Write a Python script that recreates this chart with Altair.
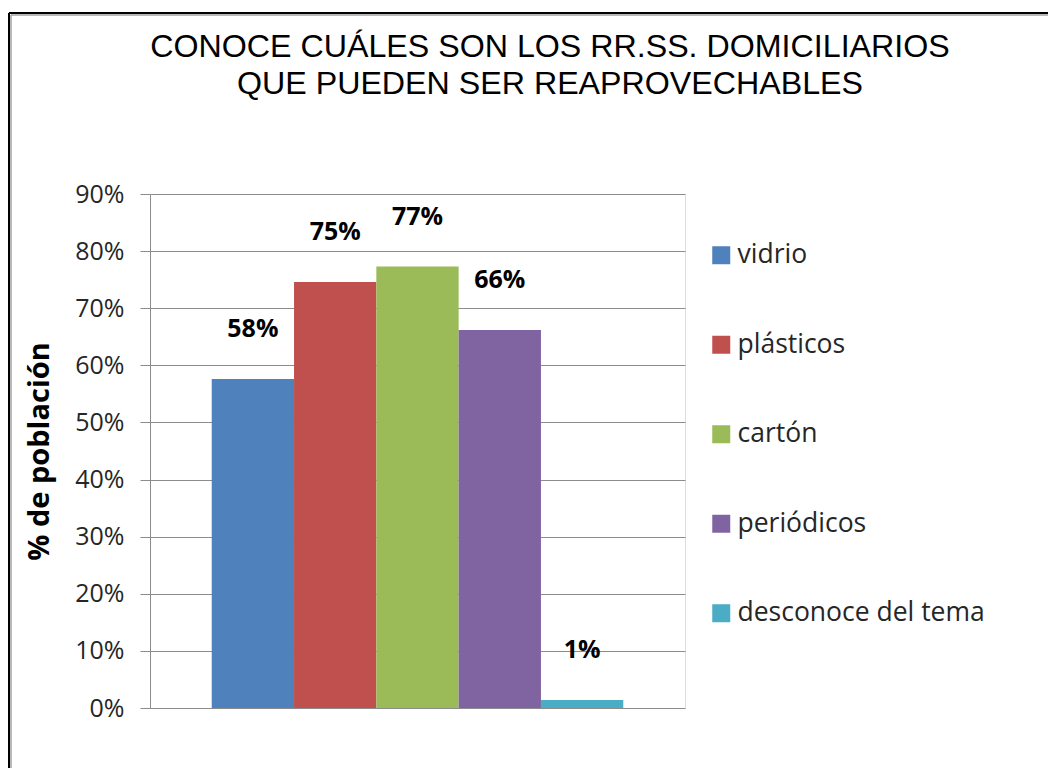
import altair as alt
import pandas as pd

categories = ["vidrio", "plásticos", "cartón", "periódicos", "desconoce del tema"]
values = [0.576, 0.746, 0.773, 0.662, 0.014]
colors = ["#4F81BD", "#C0504D", "#9BBB59", "#8064A2", "#4BACC6"]
y_ticks = [0, 0.1, 0.2, 0.3, 0.4, 0.5, 0.6, 0.7, 0.8, 0.9]
title_lines = ["CONOCE CUÁLES SON LOS RR.SS. DOMICILIARIOS", "QUE PUEDEN SER REAPROVECHABLES"]
y_title = "% de población"

df = pd.DataFrame({"serie": categories, "valor": values})

W, H = 535, 514

x_enc = alt.X("serie:N", sort=categories, axis=None,
              scale=alt.Scale(paddingInner=0, paddingOuter=0.75))
y_enc = alt.Y("valor:Q",
              scale=alt.Scale(domain=[0, 0.9], nice=False),
              axis=alt.Axis(values=y_ticks, format=".0%", title=y_title,
                            titleFont="Open Sans", titleFontSize=29, titleFontWeight="bold",
                            titleColor="#000000", titleAngle=-90, titleX=-111, titleY=H / 2,
                            titleAlign="center", titleBaseline="middle",
                            labelFont="Open Sans", labelFontSize=25, labelColor="#262626",
                            labelPadding=16, tickSize=10, tickColor="#8c8c8c",
                            domainColor="#8c8c8c", gridColor="#8c8c8c", grid=True))

bars = alt.Chart(df).mark_bar().encode(
    x=x_enc,
    y=y_enc,
    color=alt.Color("serie:N", sort=categories,
                    scale=alt.Scale(domain=categories, range=colors),
                    legend=alt.Legend(title=None, orient="none", legendX=558, legendY=48,
                                      symbolType="square", symbolSize=324, symbolStrokeWidth=0,
                                      labelFont="Open Sans", labelFontSize=26.5, labelColor="#262626",
                                      labelOffset=3, rowPadding=62.5, padding=0, labelLimit=400)),
)

labels = alt.Chart(df).mark_text(dy=-50, baseline="middle", align="center",
                                 font="Open Sans", fontSize=25, fontWeight="bold",
                                 color="#000000").encode(
    x=alt.X("serie:N", sort=categories),
    y=alt.Y("valor:Q"),
    text=alt.Text("valor:Q", format=".0%"),
)

frame_df = pd.DataFrame({"k": [0]})
frame_left = alt.Chart(frame_df).mark_rule(color="#000000", strokeWidth=2).encode(
    x=alt.value(-141), y=alt.value(-181), y2=alt.value(600))
frame_top = alt.Chart(frame_df).mark_rule(color="#000000", strokeWidth=2).encode(
    x=alt.value(-141), x2=alt.value(920), y=alt.value(-181))
shadow_left = alt.Chart(frame_df).mark_rule(color="#a0a0a0", strokeWidth=1.5).encode(
    x=alt.value(-139), y=alt.value(-179), y2=alt.value(600))
shadow_top = alt.Chart(frame_df).mark_rule(color="#a0a0a0", strokeWidth=1.5).encode(
    x=alt.value(-139), x2=alt.value(920), y=alt.value(-179))

chart = alt.layer(bars, labels, frame_left, frame_top, shadow_left, shadow_top).properties(
    width=W, height=H,
    autosize=alt.AutoSizeParams(type="none"),
    padding={"left": 142, "top": 186, "right": 363, "bottom": 60},
    title=alt.TitleParams(text=title_lines, font="Liberation Sans", fontSize=32.2,
                          fontWeight="normal", color="#000000", anchor="middle",
                          frame="group", dx=132.5, offset=-114, baseline="alphabetic",
                          lineHeight=36.7),
).configure_view(stroke="transparent").configure(background="#ffffff")

chart.save("out.html", embed_options={"renderer": "svg", "actions": False})
